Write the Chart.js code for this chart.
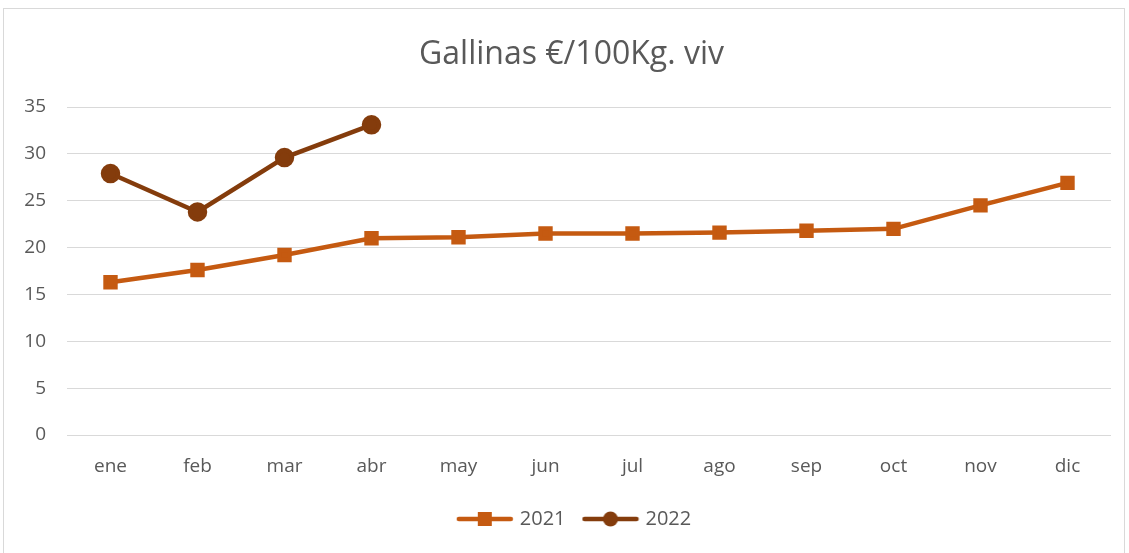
<!DOCTYPE html>
<html>
<head>
<meta charset="utf-8">
<script src="https://cdn.jsdelivr.net/npm/chart.js@4"></script>
<style>
  html, body { margin: 0; padding: 0; background: #fff; }
  canvas { display: block; }
</style>
</head>
<body>
<canvas id="chart" width="1129" height="553"></canvas>
<script>
// month labels and yearly series (€/100 kg live weight)
const months = ['ene', 'feb', 'mar', 'abr', 'may', 'jun', 'jul', 'ago', 'sep', 'oct', 'nov', 'dic'];
const values2021 = [16.3, 17.6, 19.2, 21.0, 21.1, 21.5, 21.5, 21.6, 21.8, 22.0, 24.5, 26.9];
const values2022 = [27.9, 23.8, 29.6, 33.1, null, null, null, null, null, null, null, null];
const seriesNames = ['2021', '2022'];
const seriesColors = ['#C55A11', '#843C0C'];

const fontFamily = "'Open Sans', 'Noto Sans', sans-serif";
const textColor = '#595959';

// legend icon: short line with the marker in the middle
const legendIcon = (color, shape) => {
    const c = document.createElement('canvas');
    c.width = 58;
    c.height = 16;
    const g = c.getContext('2d');
    g.strokeStyle = color;
    g.lineWidth = 4.5;
    g.lineCap = 'round';
    g.beginPath();
    g.moveTo(3, 8);
    g.lineTo(55, 8);
    g.stroke();
    g.fillStyle = color;
    if (shape === 'rect') {
        g.fillRect(22, 1, 14, 14);
    } else {
        g.beginPath();
        g.arc(29, 8, 7.5, 0, Math.PI * 2);
        g.fill();
    }
    return c;
};

const frame = {
    id: 'frame',
    beforeDraw(chart) {
        const ctx = chart.ctx;
        ctx.save();
        ctx.fillStyle = '#fff';
        ctx.fillRect(0, 0, chart.width, chart.height);
        ctx.strokeStyle = '#D9D9D9';
        ctx.lineWidth = 1;
        ctx.strokeRect(3.5, 8.5, 1121, 560);
        ctx.restore();
    },
    // title and legend sit a bit right of the plot centre in the original
    afterLayout(chart) {
        chart.legend.left += 20;
        chart.legend.right += 20;
        chart.titleBlock.left += 16;
        chart.titleBlock.right += 16;
    }
};

new Chart(document.getElementById('chart'), {
    type: 'line',
    data: {
        labels: months,
        datasets: [
            {
                label: seriesNames[0],
                data: values2021,
                borderColor: seriesColors[0],
                backgroundColor: seriesColors[0],
                borderWidth: 4.5,
                pointStyle: 'rect',
                pointRadius: 7,
                tension: 0
            },
            {
                label: seriesNames[1],
                data: values2022,
                borderColor: seriesColors[1],
                backgroundColor: seriesColors[1],
                borderWidth: 4.5,
                pointStyle: 'circle',
                pointRadius: 7.5,
                tension: 0,
                spanGaps: false
            }
        ]
    },
    options: {
        responsive: false,
        animation: false,
        layout: { padding: { left: 0, right: 18, top: 20, bottom: 14 } },
        plugins: {
            title: {
                display: true,
                text: 'Gallinas €/100Kg. viv',
                color: textColor,
                font: { family: fontFamily, size: 32, weight: 'normal' },
                padding: { top: 16, bottom: 32.6 }
            },
            legend: {
                position: 'bottom',
                labels: {
                    color: textColor,
                    font: { family: fontFamily, size: 20 },
                    usePointStyle: true,
                    pointStyleWidth: 50,
                    padding: 20,
                    generateLabels(chart) {
                        return chart.data.datasets.map((ds, i) => ({
                            text: ds.label,
                            pointStyle: legendIcon(seriesColors[i], ds.pointStyle),
                            fontColor: textColor,
                            strokeStyle: 'transparent',
                            fillStyle: 'transparent',
                            lineWidth: 0,
                            datasetIndex: i,
                            hidden: false
                        }));
                    }
                }
            },
            tooltip: { enabled: false }
        },
        scales: {
            x: {
                offset: true,
                grid: { display: false, drawTicks: false },
                border: { display: false },
                ticks: {
                    color: textColor,
                    font: { family: fontFamily, size: 19 },
                    padding: 20
                },
                afterFit(s) { s.height = 54; }
            },
            y: {
                min: 0,
                max: 35,
                grid: { color: '#D9D9D9', lineWidth: 1, drawTicks: false },
                border: { display: false },
                ticks: {
                    stepSize: 5,
                    color: textColor,
                    font: { family: fontFamily, size: 19 },
                    padding: 21
                },
                afterFit(s) { s.width = 67; }
            }
        }
    },
    plugins: [frame]
});
</script>
</body>
</html>
